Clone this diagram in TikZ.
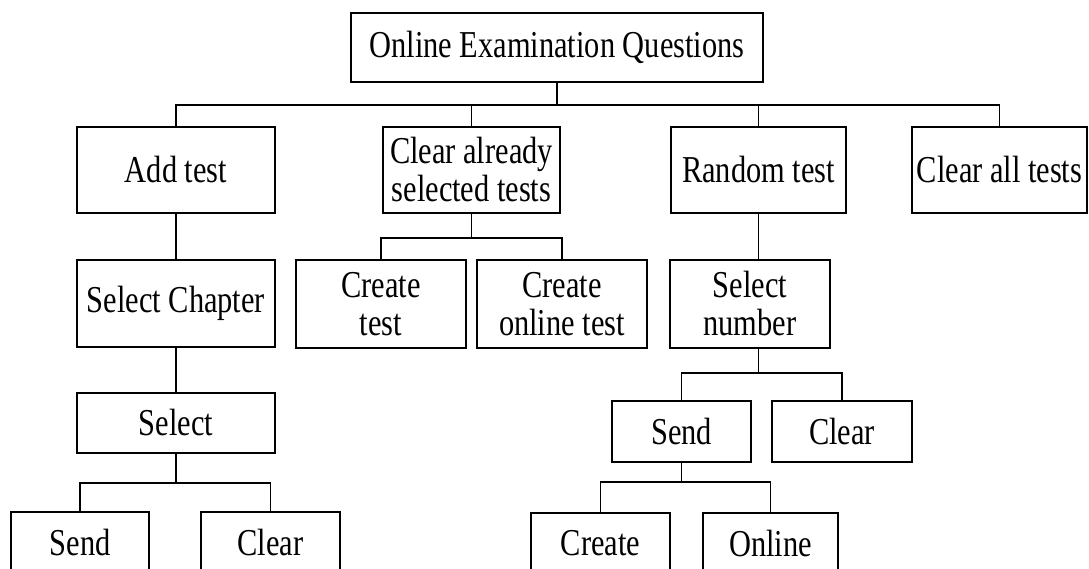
\documentclass[tikz,border=0pt]{standalone}
\usepackage{fontspec}
\setmainfont{Liberation Serif}[FakeStretch=0.8]
\usepackage{tikz}

\begin{document}
\begin{tikzpicture}[x=1pt,y=-1pt,line width=1.8pt,
  bx/.style={draw,inner sep=0pt,align=center,font=\fontsize{38}{38}\selectfont}]
\clip (0,0) rectangle (1089,569);
\node[bx,minimum width=412,minimum height=69] (root) at (557,47.5) {Online Examination Questions};

\node[bx,minimum width=198,minimum height=86] (add) at (176,170) {Add test};
\node[bx,minimum width=177,minimum height=86] (clr) at (471.5,170) {Clear already\\selected tests};
\node[bx,minimum width=175,minimum height=86] (rnd) at (758.5,170) {Random test};
\node[bx,minimum width=175,minimum height=86] (all) at (999.5,170) {Clear all tests};

\node[bx,minimum width=198,minimum height=87] (chap) at (176,303.5) {Select Chapter};
\node[bx,minimum width=170,minimum height=88] (ct) at (381,304) {Create\\test};
\node[bx,minimum width=170,minimum height=88] (cot) at (562,304) {Create\\online test};
\node[bx,minimum width=160,minimum height=88] (num) at (750,304) {Select\\number};

\node[bx,minimum width=198,minimum height=60] (sel) at (176,423) {Select};
\node[bx,minimum width=139,minimum height=61] (snd) at (681.5,431.5) {Send};
\node[bx,minimum width=140,minimum height=61] (clra) at (842,431.5) {Clear};

\node[bx,minimum width=138,minimum height=60] (s1) at (80,542) {Send};
\node[bx,minimum width=139,minimum height=60] (c1) at (270.5,542) {Clear};
\node[bx,minimum width=139,minimum height=60] (cre) at (600.5,543) {Create};
\node[bx,minimum width=135,minimum height=60] (onl) at (770.5,543) {Online};

\draw (root.south) -- ++(0,22) coordinate (b1);
\draw (add.north) |- (b1) -| (all.north);
\draw (clr.north) -- (clr.north |- b1);
\draw (rnd.north) -- (rnd.north |- b1);

\draw (clr.south) -- ++(0,24) coordinate (b2);
\draw (ct.north) |- (b2) -| (cot.north);

\draw (add.south) -- (chap.north);
\draw (chap.south) -- (sel.north);
\draw (sel.south) -- ++(0,29) coordinate (b3);
\draw (s1.north) |- (b3) -| (c1.north);

\draw (rnd.south) -- (rnd.south |- num.north);
\draw (rnd.south |- num.south) -- ++(0,24) coordinate (b4);
\draw (snd.north) |- (b4) -| (clra.north);
\draw (snd.south) -- ++(0,19) coordinate (b5);
\draw (cre.north) |- (b5) -| (onl.north);
\end{tikzpicture}
\end{document}
